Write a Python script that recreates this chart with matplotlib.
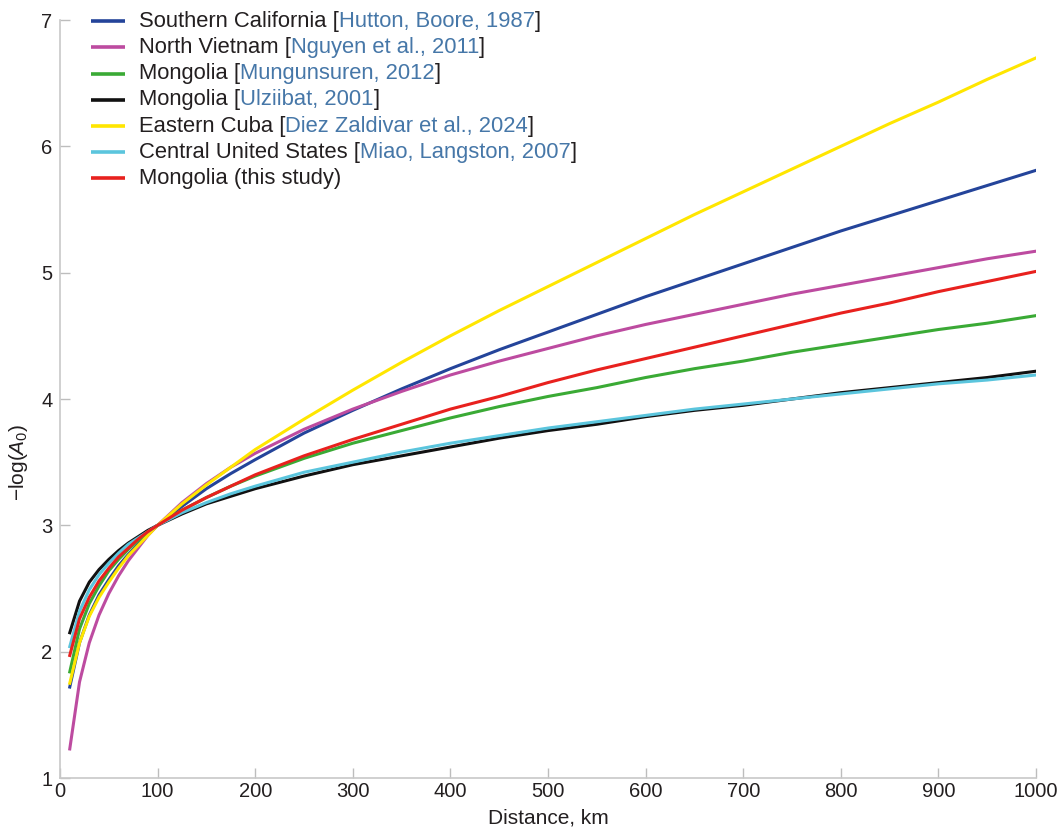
import matplotlib.pyplot as plt

plt.rcParams['font.family'] = ['Liberation Sans', 'DejaVu Sans']
plt.rcParams['mathtext.fontset'] = 'custom'
plt.rcParams['mathtext.rm'] = 'Liberation Sans'
plt.rcParams['mathtext.it'] = 'Liberation Sans:italic'

# epicentral distance, km
distance = [10, 20, 30, 40, 50, 60, 70, 80, 90, 100, 125, 150, 175, 200, 250,
            300, 350, 400, 450, 500, 550, 600, 650, 700, 750, 800, 850, 900, 950, 1000]

# -log(A0) calibration curves
south_california = [1.72, 2.07, 2.29, 2.45, 2.57, 2.68, 2.77, 2.85, 2.93, 3.00, 3.15, 3.29, 3.41, 3.52, 3.73,
                    3.91, 4.08, 4.24, 4.39, 4.53, 4.67, 4.81, 4.94, 5.07, 5.20, 5.33, 5.45, 5.57, 5.69, 5.81]
north_vietnam = [1.23, 1.76, 2.07, 2.29, 2.46, 2.60, 2.72, 2.82, 2.92, 3.00, 3.18, 3.33, 3.46, 3.57, 3.76,
                 3.92, 4.06, 4.19, 4.30, 4.40, 4.50, 4.59, 4.67, 4.75, 4.83, 4.90, 4.97, 5.04, 5.11, 5.17]
mongolia_2012 = [1.84, 2.18, 2.38, 2.52, 2.64, 2.73, 2.81, 2.88, 2.94, 3.00, 3.12, 3.22, 3.31, 3.39, 3.53,
                 3.65, 3.75, 3.85, 3.94, 4.02, 4.09, 4.17, 4.24, 4.30, 4.37, 4.43, 4.49, 4.55, 4.60, 4.66]
mongolia_2001 = [2.15, 2.40, 2.55, 2.65, 2.73, 2.80, 2.86, 2.91, 2.96, 3.00, 3.09, 3.17, 3.23, 3.29, 3.39,
                 3.48, 3.55, 3.62, 3.69, 3.75, 3.80, 3.86, 3.91, 3.95, 4.00, 4.05, 4.09, 4.13, 4.17, 4.22]
eastern_cuba = [1.75, 2.07, 2.28, 2.43, 2.55, 2.66, 2.76, 2.84, 2.92, 3.00, 3.17, 3.32, 3.46, 3.60, 3.84,
                4.07, 4.29, 4.50, 4.70, 4.89, 5.08, 5.27, 5.46, 5.64, 5.82, 6.00, 6.18, 6.35, 6.53, 6.70]
central_us = [2.04, 2.32, 2.49, 2.61, 2.70, 2.78, 2.85, 2.90, 2.95, 3.00, 3.10, 3.18, 3.25, 3.31, 3.42,
              3.50, 3.58, 3.65, 3.71, 3.77, 3.82, 3.87, 3.92, 3.96, 4.00, 4.04, 4.08, 4.12, 4.15, 4.19]
mongolia_new = [1.97, 2.26, 2.43, 2.56, 2.66, 2.75, 2.82, 2.89, 2.95, 3.00, 3.12, 3.22, 3.31, 3.40, 3.55,
                3.68, 3.80, 3.92, 4.02, 4.13, 4.23, 4.32, 4.41, 4.50, 4.59, 4.68, 4.76, 4.85, 4.93, 5.01]

region_names = ['Southern California', 'North Vietnam', 'Mongolia', 'Mongolia',
                'Eastern Cuba', 'Central United States', 'Mongolia (this study)']
references = ['Hutton, Boore, 1987', 'Nguyen et al., 2011', 'Mungunsuren, 2012',
              'Ulziibat, 2001', 'Diez Zaldivar et al., 2024', 'Miao, Langston, 2007', None]
curves = [south_california, north_vietnam, mongolia_2012, mongolia_2001,
          eastern_cuba, central_us, mongolia_new]
colors = ['#24449a', '#bd4ba0', '#3aaa35', '#111111', '#ffe600', '#5bc5dd', '#e8211e']

text_col = '#231f20'
ref_col = '#4677a8'

fig = plt.figure(figsize=(10.62, 8.27), dpi=100)
ax = fig.add_axes([60 / 1062, 49 / 827, 976 / 1062, 758 / 827])

for vals, c in zip(curves, colors):
    ax.plot(distance, vals, color=c, lw=2.2, solid_joinstyle='round')

ax.set_xlim(0, 1000)
ax.set_ylim(1, 7)
ax.set_xticks(range(0, 1001, 100))
ax.set_yticks(range(1, 8))
for side in ['top', 'right']:
    ax.spines[side].set_visible(False)
for side in ['left', 'bottom']:
    ax.spines[side].set_color('#c8c8c8')
    ax.spines[side].set_linewidth(1.2)
ax.tick_params(direction='in', length=7, width=1, color='#bdbdbd',
               labelsize=14.5, labelcolor=text_col)
ax.tick_params(axis='x', pad=3)
ax.tick_params(axis='y', pad=5.5)

fig.text(548 / 1062, 1 - 823 / 827, 'Distance, km', fontsize=15, color=text_col,
         ha='center', va='baseline')
fig.text(18 / 1062, 1 - 462 / 827, '\u2212log($\\mathit{A}_0$)', rotation=90,
         fontsize=15, color=text_col, ha='center', va='center')

# hand-made legend, citations in blue
row0 = 0.9985
step = 0.0346
for i, (name, ref, c) in enumerate(zip(region_names, references, colors)):
    y = row0 - i * step
    ax.plot([0.0318, 0.0666], [y, y], transform=ax.transAxes, color=c, lw=2.6,
            solid_capstyle='butt', clip_on=False)
    first = name + (' [' if ref else '')
    t = ax.text(0.081, y, first, transform=ax.transAxes, va='center', ha='left',
                fontsize=15.8, color=text_col)
    if ref:
        r = ax.annotate(ref, xy=(1, 0), xycoords=t, va='bottom', ha='left',
                        fontsize=15.8, color=ref_col)
        ax.annotate(']', xy=(1, 0), xycoords=r, va='bottom', ha='left',
                    fontsize=15.8, color=text_col)

fig.savefig('out.png', dpi=100)
